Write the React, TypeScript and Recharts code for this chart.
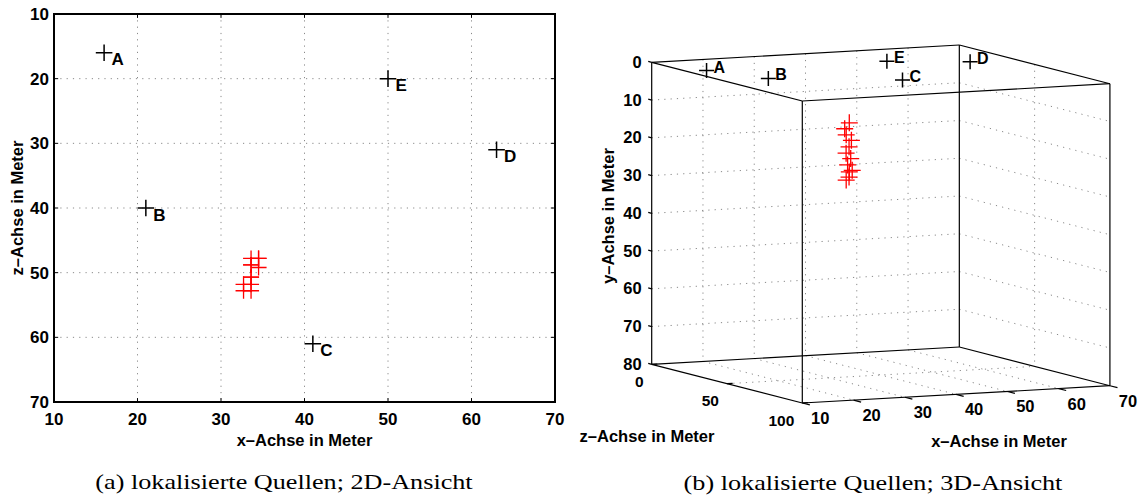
import React from 'react';
import { ScatterChart, Scatter, XAxis, YAxis, CartesianGrid, ReferenceArea, ReferenceLine } from 'recharts';

// ---------- data ----------
const sourceNames = ['A', 'B', 'C', 'D', 'E'];
const sourceX = [16, 21, 41, 63, 50];
const sourceZ = [16, 40, 61, 31, 20];
const sourceY = [1.0, 1.0, 0.8, 0.7, 0.7];

const locX = [34.5, 33.6, 33.6, 34.5, 33.6, 32.7, 33.6, 32.7, 33.6, 34.5, 33.6, 33.6];
const locZ = [47.8, 47.8, 48.8, 49.2, 50.7, 51.8, 51.8, 52.8, 52.8, 47.8, 50.7, 48.8];
const locY = [13, 14.5, 16, 17.5, 19, 20.5, 22, 23.5, 25, 26, 27, 28];

const ticks2D = [10, 20, 30, 40, 50, 60, 70];
const xTicks3D = [10, 20, 30, 40, 50, 60, 70];
const yTicks3D = [0, 10, 20, 30, 40, 50, 60, 70, 80];
const zTicks3D = [0, 50, 100];
const xGrid3D = [20, 30, 40, 50, 60];
const yGrid3D = [10, 20, 30, 40, 50, 60, 70];
const zGrid3D = [50];

const X_RANGE = [10, 70];
const Y_RANGE = [0, 80];
const Z_RANGE = [0, 100];

// ---------- styles ----------
const SANS = '"Liberation Sans", Arial, Helvetica, sans-serif';
const SERIF = '"Liberation Serif", "DejaVu Serif", serif';
const GRID = '#8a8a8a';
const DOTS = '1.2 5.1';

// view (projection) of the 3D axes box
const VIEW = { ux: 5.127, uz: 1.506, wx: -0.288, wz: 0.387, wy: 3.775 };
const U_DOMAIN = [-71.7, 490.3];
const W_DOMAIN = [-62.3, 435.7];

const project = (x: number, y: number, z: number) => ({
  u: VIEW.ux * (x - X_RANGE[0]) + VIEW.uz * (z - Z_RANGE[0]),
  w: VIEW.wx * (x - X_RANGE[0]) + VIEW.wz * (z - Z_RANGE[0]) + VIEW.wy * (y - Y_RANGE[0]),
});

const plusShape = (color: string, arm: number, sw: number, labelDx?: number, labelDy?: number, fs?: number) =>
  (p: any) => {
    const { cx, cy, payload } = p;
    return (
      <g>
        <path d={`M${cx - arm},${cy}H${cx + arm}M${cx},${cy - arm}V${cy + arm}`} stroke={color} strokeWidth={sw} fill="none" />
        {payload && payload.name && labelDx !== undefined ? (
          <text x={cx + labelDx} y={cy + (labelDy || 0)} fontFamily={SANS} fontWeight="bold" fontSize={fs} fill="#000">
            {payload.name}
          </text>
        ) : null}
      </g>
    );
  };

// ---------- 2D data ----------
const sources2D = sourceNames.map((n, i) => ({ x: sourceX[i], z: sourceZ[i], name: n }));
const loc2D = locX.map((x, i) => ({ x, z: locZ[i] }));
const inner = ticks2D.slice(1, -1);

// ---------- 3D data ----------
const sources3D = sourceNames.map((n, i) => ({ ...project(sourceX[i], sourceY[i], sourceZ[i]), name: n }));
const loc3D = locX.map((x, i) => project(x, locY[i], locZ[i]));

type Seg = [{ u: number; w: number }, { u: number; w: number }];
const seg3 = (a: number[], b: number[]): Seg => [project(a[0], a[1], a[2]), project(b[0], b[1], b[2])];

const [x0, x1] = X_RANGE;
const [y0, y1] = Y_RANGE;
const [z0, z1] = Z_RANGE;

const edges: Seg[] = [
  // top face
  seg3([x0, y0, z0], [x1, y0, z0]),
  seg3([x1, y0, z0], [x1, y0, z1]),
  seg3([x1, y0, z1], [x0, y0, z1]),
  seg3([x0, y0, z1], [x0, y0, z0]),
  // bottom face
  seg3([x0, y1, z0], [x1, y1, z0]),
  seg3([x1, y1, z0], [x1, y1, z1]),
  seg3([x1, y1, z1], [x0, y1, z1]),
  seg3([x0, y1, z1], [x0, y1, z0]),
  // verticals
  seg3([x0, y0, z0], [x0, y1, z0]),
  seg3([x1, y0, z0], [x1, y1, z0]),
  seg3([x1, y0, z1], [x1, y1, z1]),
  seg3([x0, y0, z1], [x0, y1, z1]),
];

const grid3D: Seg[] = [
  // back wall z = z0
  ...yGrid3D.map((y) => seg3([x0, y, z0], [x1, y, z0])),
  ...xGrid3D.map((x) => seg3([x, y0, z0], [x, y1, z0])),
  // side wall x = x1
  ...yGrid3D.map((y) => seg3([x1, y, z0], [x1, y, z1])),
  ...zGrid3D.map((z) => seg3([x1, y0, z], [x1, y1, z])),
  // floor y = y1
  ...xGrid3D.map((x) => seg3([x, y1, z0], [x, y1, z1])),
  ...zGrid3D.map((z) => seg3([x0, y1, z], [x1, y1, z])),
];

const tickMarks3D: Seg[] = [
  ...yTicks3D.map((y) => seg3([x0, y, z0], [x0, y, z0 - 2.3])),
  ...xTicks3D.map((x) => seg3([x, y1, z1], [x, y1, z1 + 5])),
  ...zTicks3D.map((z) => seg3([x0, y1, z], [x0 + 1.1, y1, z])),
];

const yLabels3D = yTicks3D.map((y) => ({ ...project(x0, y, z0), label: String(y) }));
const xLabels3D = xTicks3D.map((x) => ({ ...project(x, y1, z1), label: String(x) }));
const zLabels3D = zTicks3D.map((z) => ({ ...project(x0, y1, z), label: String(z) }));

const textShape = (dx: number, dy: number, anchor: 'start' | 'middle' | 'end', fs = 16.5) => (p: any) => (
  <text
    x={p.cx + dx}
    y={p.cy + dy}
    textAnchor={anchor}
    dominantBaseline="central"
    fontFamily={SANS}
    fontWeight="bold"
    fontSize={fs}
    fill="#000"
  >
    {p.payload.label}
  </text>
);

const abs = (left: number, top: number, extra: React.CSSProperties = {}): React.CSSProperties => ({
  position: 'absolute',
  left,
  top,
  transform: 'translate(-50%, -50%)',
  whiteSpace: 'nowrap',
  ...extra,
});

const titleStyle: React.CSSProperties = { fontFamily: SANS, fontWeight: 'bold', fontSize: 16.5, color: '#000', lineHeight: 1 };
const captionStyle: React.CSSProperties = {
  fontFamily: SERIF,
  fontSize: 22,
  color: '#000',
  lineHeight: 1,
  transform: 'translate(-50%, -50%) scaleX(1.19)',
};

export default function App() {
  return (
    <div style={{ position: 'absolute', left: 0, top: 0, width: 1142, height: 498, background: '#fff', overflow: 'hidden' }}>
      {/* ---------- left: 2D view ---------- */}
      <div style={{ position: 'absolute', left: 0, top: 0 }}>
        <ScatterChart width={580} height={498} margin={{ top: 14, right: 25, bottom: 56, left: 0 }}>
          <CartesianGrid stroke={GRID} strokeDasharray={DOTS} strokeWidth={1} />
          <XAxis
            type="number"
            dataKey="x"
            domain={[10, 70]}
            ticks={ticks2D}
            allowDataOverflow
            height={40}
            axisLine={false}
            tickLine={false}
            tickSize={0}
            tickMargin={11}
            tick={{ fontFamily: SANS, fontWeight: 'bold', fontSize: 17, fill: '#000' }}
          />
          <YAxis
            type="number"
            dataKey="z"
            domain={[10, 70]}
            ticks={ticks2D}
            reversed
            allowDataOverflow
            width={54}
            axisLine={false}
            tickLine={false}
            tickSize={0}
            tickMargin={5}
            tick={{ fontFamily: SANS, fontWeight: 'bold', fontSize: 17, fill: '#000' }}
          />
          {inner.map((t) => (
            <ReferenceLine key={'tb' + t} segment={[{ x: t, y: 70 }, { x: t, y: 69.4 }]} stroke="#000" strokeWidth={1} />
          ))}
          {inner.map((t) => (
            <ReferenceLine key={'tt' + t} segment={[{ x: t, y: 10 }, { x: t, y: 10.6 }]} stroke="#000" strokeWidth={1} />
          ))}
          {inner.map((t) => (
            <ReferenceLine key={'tl' + t} segment={[{ x: 10, y: t }, { x: 10.5, y: t }]} stroke="#000" strokeWidth={1} />
          ))}
          {inner.map((t) => (
            <ReferenceLine key={'tr' + t} segment={[{ x: 70, y: t }, { x: 69.5, y: t }]} stroke="#000" strokeWidth={1} />
          ))}
          <ReferenceArea x1={10} x2={70} y1={10} y2={70} fill="none" fillOpacity={0} stroke="#000" strokeWidth={2} />
          <Scatter data={loc2D} isAnimationActive={false} shape={plusShape('#ff0000', 8, 1.3)} />
          <Scatter data={sources2D} isAnimationActive={false} shape={plusShape('#000', 8.3, 1.5, 7.5, 12.5, 17)} />
        </ScatterChart>
      </div>

      {/* ---------- right: 3D view ---------- */}
      <div style={{ position: 'absolute', left: 580, top: 0 }}>
        <ScatterChart width={562} height={498} margin={{ top: 0, right: 0, bottom: 0, left: 0 }}>
          <XAxis type="number" dataKey="u" domain={U_DOMAIN} allowDataOverflow hide />
          <YAxis type="number" dataKey="w" domain={W_DOMAIN} reversed allowDataOverflow hide />
          {grid3D.map((s, i) => (
            <ReferenceLine
              key={'g' + i}
              segment={[{ x: s[0].u, y: s[0].w }, { x: s[1].u, y: s[1].w }]}
              stroke={GRID}
              strokeDasharray={DOTS}
              strokeWidth={1}
              ifOverflow="visible"
            />
          ))}
          {edges.map((s, i) => (
            <ReferenceLine
              key={'e' + i}
              segment={[{ x: s[0].u, y: s[0].w }, { x: s[1].u, y: s[1].w }]}
              stroke="#000"
              strokeWidth={1.2}
              ifOverflow="visible"
            />
          ))}
          {tickMarks3D.map((s, i) => (
            <ReferenceLine
              key={'t' + i}
              segment={[{ x: s[0].u, y: s[0].w }, { x: s[1].u, y: s[1].w }]}
              stroke="#000"
              strokeWidth={1.2}
              ifOverflow="visible"
            />
          ))}
          <Scatter data={yLabels3D} isAnimationActive={false} shape={textShape(-10, -0.5, 'end')} />
          <Scatter data={zLabels3D} isAnimationActive={false} shape={textShape(-8, 17, 'end', 15.5)} />
          <Scatter data={xLabels3D} isAnimationActive={false} shape={textShape(18, 15, 'middle')} />
          <Scatter data={loc3D} isAnimationActive={false} shape={plusShape('#ff0000', 8.5, 1.3)} />
          <Scatter data={sources3D} isAnimationActive={false} shape={plusShape('#000', 7.5, 1.5, 7, 2, 16)} />
        </ScatterChart>
      </div>

      {/* ---------- titles ---------- */}
      <div style={abs(304.5, 440, titleStyle)}>x–Achse in Meter</div>
      <div style={{ ...abs(17, 208, titleStyle), transform: 'translate(-50%, -50%) rotate(-90deg)' }}>z–Achse in Meter</div>
      <div style={{ ...abs(608, 216, titleStyle), transform: 'translate(-50%, -50%) rotate(-90deg)' }}>y–Achse in Meter</div>
      <div style={abs(647, 436, titleStyle)}>z–Achse in Meter</div>
      <div style={abs(999, 441, titleStyle)}>x–Achse in Meter</div>

      {/* ---------- captions ---------- */}
      <div style={abs(284, 482, captionStyle)}>(a) lokalisierte Quellen; 2D-Ansicht</div>
      <div style={abs(873, 483, captionStyle)}>(b) lokalisierte Quellen; 3D-Ansicht</div>
    </div>
  );
}
